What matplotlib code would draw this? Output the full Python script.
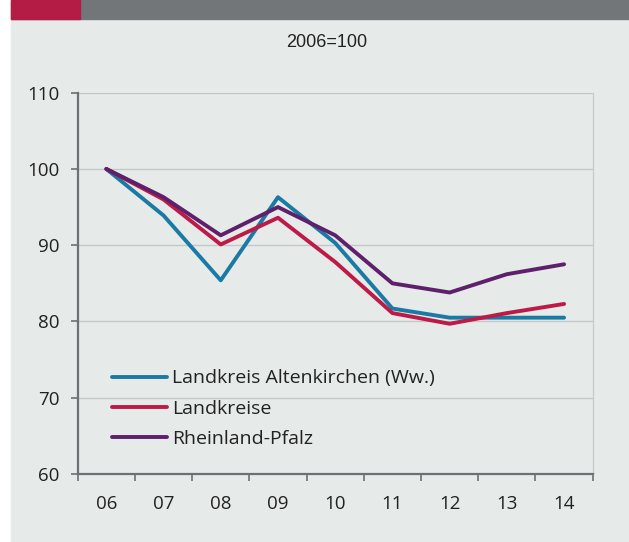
import matplotlib.pyplot as plt
from matplotlib.patches import Rectangle

years = ["06", "07", "08", "09", "10", "11", "12", "13", "14"]
altenkirchen = [100, 93.9, 85.4, 96.3, 90.3, 81.7, 80.5, 80.5, 80.5]
landkreise = [100, 96.0, 90.1, 93.6, 87.8, 81.1, 79.7, 81.1, 82.3]
rlp = [100, 96.3, 91.3, 95.0, 91.3, 85.0, 83.8, 86.2, 87.5]
yticks = [60, 70, 80, 90, 100, 110]

bg = "#e6eae9"
W, H = 629, 542
fig = plt.figure(figsize=(W / 100, H / 100), dpi=100, facecolor="white")

# background panel and header bar (figure pixel coords)
def px_rect(x0, y0, x1, y1, color):
    fig.patches.append(Rectangle((x0 / W, 1 - y1 / H), (x1 - x0) / W, (y1 - y0) / H,
                                 transform=fig.transFigure, color=color, zorder=-5))

px_rect(11, 19, W, H, bg)
px_rect(11, 0, W, 19, "#737679")
px_rect(11, 0, 80, 19, "#b41b45")

fig.text(327 / W, 1 - 42 / H, "2006=100", ha="center", va="center",
         fontsize=13, family="Liberation Sans", color="#222222")

ax = fig.add_axes([77.7 / W, 68 / H, 515 / W, 381.3 / H])
ax.set_facecolor(bg)

x = list(range(len(years)))
ax.plot(x, altenkirchen, color="#1a7aa3", lw=2.8, label="Landkreis Altenkirchen (Ww.)", solid_capstyle="round")
ax.plot(x, landkreise, color="#be1a47", lw=2.8, label="Landkreise", solid_capstyle="round")
ax.plot(x, rlp, color="#5e1f6b", lw=2.8, label="Rheinland-Pfalz", solid_capstyle="round")

ax.set_xlim(-0.5, len(years) - 0.5)
ax.set_ylim(60, 110)
ax.set_yticks(yticks)
ax.set_xticks(x)
ax.set_xticklabels(years)
ax.set_xticks([i - 0.5 for i in range(len(years) + 1)], minor=True)

for y in yticks[1:]:
    ax.axhline(y, color="#c4c7c7", lw=1.0, zorder=0)

ax.spines["top"].set_visible(False)
ax.spines["right"].set_color("#c9cccc")
ax.spines["right"].set_linewidth(1.0)
for s in ["left", "bottom"]:
    ax.spines[s].set_color("#6d7073")
    ax.spines[s].set_linewidth(1.6)

ax.tick_params(axis="x", which="major", length=0, pad=15, labelsize=13.5, colors="#222222")
ax.tick_params(axis="x", which="minor", length=5, width=1.2, color="#6d7073")
ax.tick_params(axis="y", length=5, width=1.2, color="#6d7073", pad=8, labelsize=13.5, labelcolor="#222222")
for lab in ax.get_xticklabels() + ax.get_yticklabels():
    lab.set_family("Open Sans")

leg = ax.legend(loc="upper left", bbox_to_anchor=(0.033, 0.32), frameon=False,
                handlelength=2.8, handletextpad=0.3, labelspacing=0.63,
                prop={"family": "Open Sans", "size": 14})
for t in leg.get_texts():
    t.set_color("#222222")

fig.savefig("out.png", dpi=100, facecolor="white")
